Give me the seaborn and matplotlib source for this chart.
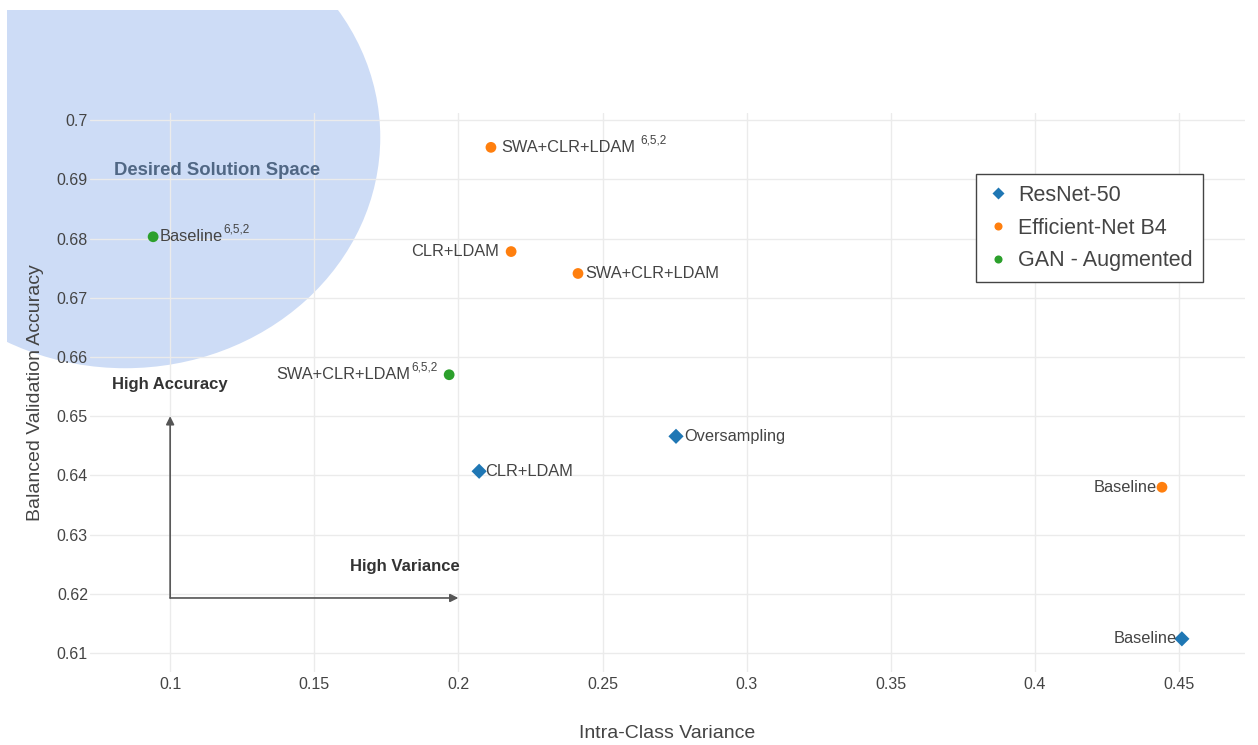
import pandas as pd
import seaborn as sns
import matplotlib.pyplot as plt
from matplotlib.patches import Ellipse, Rectangle

# values
models = ['ResNet-50', 'ResNet-50', 'ResNet-50',
          'Efficient-Net B4', 'Efficient-Net B4', 'Efficient-Net B4', 'Efficient-Net B4',
          'GAN - Augmented', 'GAN - Augmented']
variance = [0.451, 0.2072, 0.2755,
            0.2113, 0.2183, 0.2415, 0.4441,
            0.0941, 0.1968]
accuracy = [0.6124, 0.6407, 0.6466,
            0.6954, 0.6778, 0.6741, 0.6380,
            0.6803, 0.6570]
labels = ['Baseline', 'CLR+LDAM', 'Oversampling',
          'SWA+CLR+LDAM', 'CLR+LDAM', 'SWA+CLR+LDAM', 'Baseline',
          'Baseline', 'SWA+CLR+LDAM']
superscripts = ['', '', '', '6,5,2', '', '', '', '6,5,2', '6,5,2']
# which side of the marker each label sits on
label_side = ['left', 'right', 'right',
              'right', 'left', 'right', 'left',
              'right', 'left']
label_gap = [5, 6, 8, 10, 12, 7, 5, 6, 12]
sup_gap = [0, 0, 0, 5, 0, 0, 0, 1, 1]

x_ticks = [0.1, 0.15, 0.2, 0.25, 0.3, 0.35, 0.4, 0.45]
y_ticks = [0.61, 0.62, 0.63, 0.64, 0.65, 0.66, 0.67, 0.68, 0.69, 0.7]

df = pd.DataFrame({'model': models, 'x': variance, 'y': accuracy})

sns.set_style('whitegrid')
plt.rcParams['font.family'] = ['Liberation Sans', 'DejaVu Sans']

txt = '#444444'
palette = {'ResNet-50': '#1f77b4', 'Efficient-Net B4': '#ff7f0e', 'GAN - Augmented': '#2ca02c'}
markers = {'ResNet-50': 'D', 'Efficient-Net B4': 'o', 'GAN - Augmented': 'o'}

fig = plt.figure(figsize=(12.58, 7.45), dpi=100)
ax = fig.add_axes([90 / 1258, 1 - 672 / 745, 1155 / 1258, 559 / 745])
ax.set_axisbelow(True)

sns.scatterplot(data=df, x='x', y='y', hue='model', style='model', palette=palette,
                markers=markers, s=60, edgecolor='none', ax=ax, zorder=3)

# the "desired solution space" bubble, cut at the picture's white border
bubble = Ellipse((0.0844, 0.6971), 0.177, 0.078, facecolor='#cddcf6', edgecolor='none',
                 zorder=0.3)
ax.add_patch(bubble)
clip = Rectangle((7 / 1258, 0), 1, 1 - 10 / 745, transform=fig.transFigure, visible=False)
fig.add_artist(clip)
bubble.set_clip_path(clip)
bubble.set_clip_on(True)

pt = 0.72  # points per pixel
for xi, yi, lab, sup, side, gap, sg in zip(variance, accuracy, labels, superscripts,
                                           label_side, label_gap, sup_gap):
    if side == 'right':
        base = ax.annotate(lab, (xi, yi), xytext=(gap * pt, 0), textcoords='offset points',
                           ha='left', va='center', fontsize=11.8, color=txt)
        if sup:
            ax.annotate(sup, xy=(1, 0.5), xycoords=base, xytext=(sg * pt, 5),
                        textcoords='offset points', ha='left', va='center',
                        fontsize=8.5, color=txt)
    else:
        if sup:
            s_art = ax.annotate(sup, (xi, yi), xytext=(-gap * pt, 5), textcoords='offset points',
                                ha='right', va='center', fontsize=8.5, color=txt)
            ax.annotate(lab, xy=(0, 0.5), xycoords=s_art, xytext=(-sg * pt, -5),
                        textcoords='offset points', ha='right', va='center',
                        fontsize=11.8, color=txt)
        else:
            ax.annotate(lab, (xi, yi), xytext=(-gap * pt, 0), textcoords='offset points',
                        ha='right', va='center', fontsize=11.8, color=txt)

ax.text(0.1163, 0.6915, 'Desired Solution Space', ha='center', va='center',
        fontsize=13.3, fontweight='bold', color='#506784')
ax.text(0.1, 0.6553, 'High Accuracy', ha='center', va='center',
        fontsize=12, fontweight='bold', color='#333333')
ax.text(0.1815, 0.6247, 'High Variance', ha='center', va='center',
        fontsize=12, fontweight='bold', color='#333333')

arrow = dict(arrowstyle='-|>', color='#555555', lw=1.2, mutation_scale=12, shrinkA=0, shrinkB=0)
ax.annotate('', xy=(0.1, 0.65), xytext=(0.1, 0.6193), arrowprops=arrow)
ax.annotate('', xy=(0.2, 0.6193), xytext=(0.1, 0.6193), arrowprops=arrow)

ax.set_xlim(0.0722, 0.4729)
ax.set_ylim(0.6068, 0.7012)
ax.set_xticks(x_ticks)
ax.set_xticklabels([f'{v:g}' for v in x_ticks])
ax.set_yticks(y_ticks)
ax.set_yticklabels([f'{v:g}' for v in y_ticks])
ax.tick_params(axis='both', labelsize=11.5, labelcolor=txt, length=0)
ax.tick_params(axis='x', pad=3.5)
ax.tick_params(axis='y', pad=1.5)
ax.grid(color='#ebebeb', lw=1)
for s in ax.spines.values():
    s.set_visible(False)

ax.set_xlabel('Intra-Class Variance', fontsize=14, color=txt, labelpad=24)
ax.set_ylabel('Balanced Validation Accuracy', fontsize=14, color=txt, labelpad=9)

handles, hl = ax.get_legend_handles_labels()
leg = ax.legend(handles, hl, loc='upper left', bbox_to_anchor=(0.767, 0.891),
                borderaxespad=0, fontsize=15.5, frameon=True, fancybox=False, framealpha=1,
                edgecolor='#444444', labelspacing=0.55, handletextpad=0.35,
                handlelength=1.1, borderpad=0.5, markerscale=0.75)
leg.get_frame().set_linewidth(1)
for t in leg.get_texts():
    t.set_color(txt)

fig.savefig('out.png', dpi=100)
